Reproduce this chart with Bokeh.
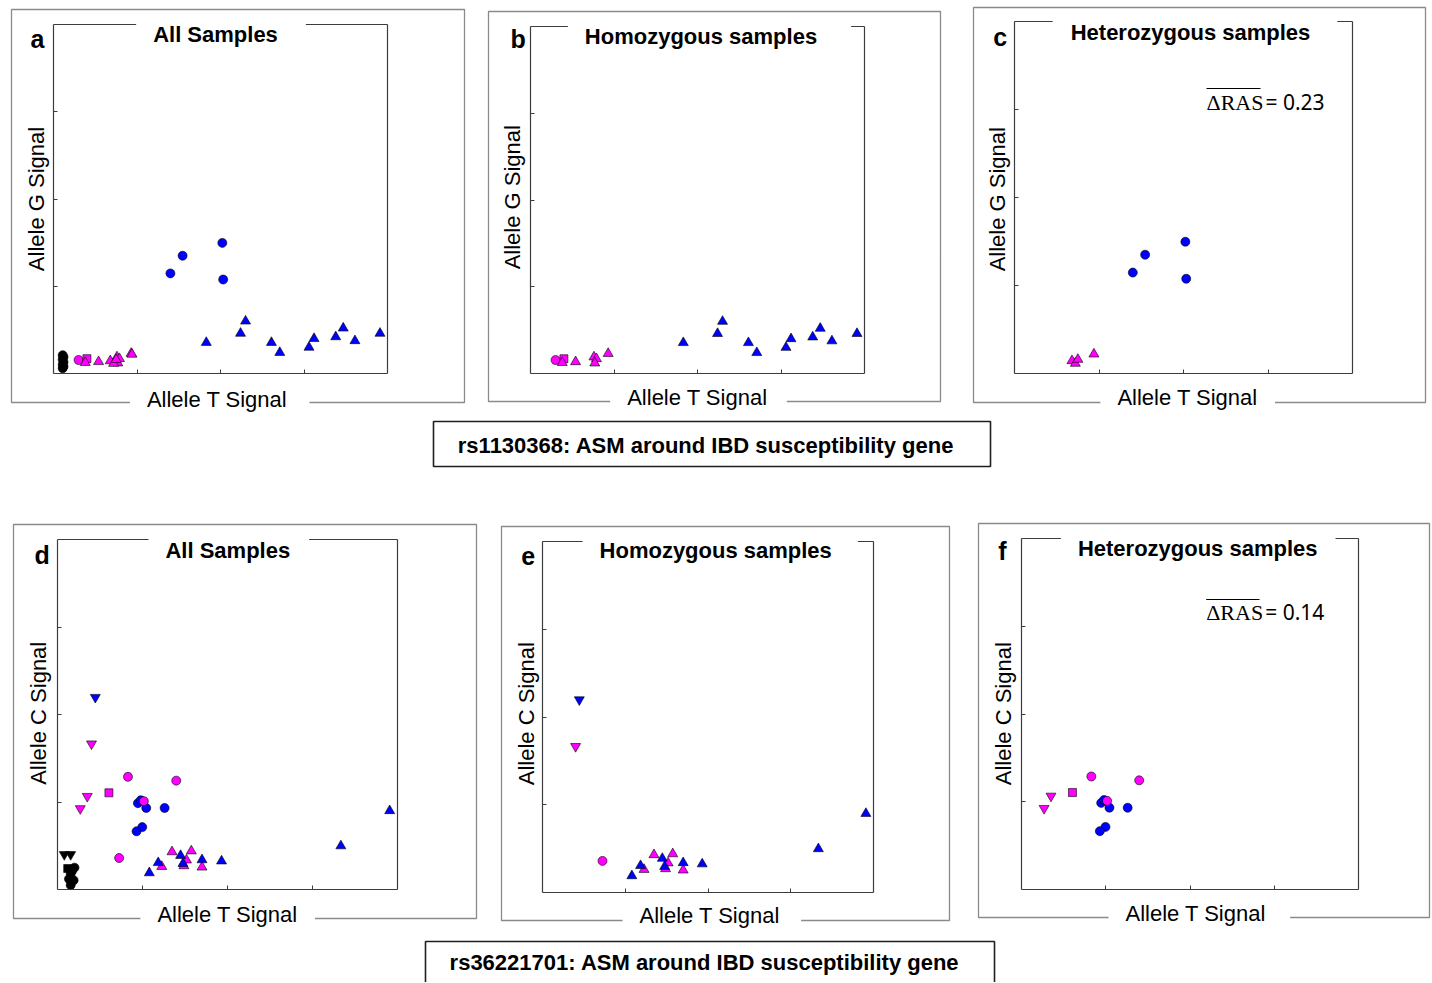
import math
from bokeh.plotting import figure
from bokeh.models import (Range1d, LinearAxis, FixedTicker, Label, BoxAnnotation,
                          ColumnDataSource)
from bokeh.layouts import row, column
from bokeh.embed import file_html
from bokeh.resources import INLINE

FONT = "Liberation Sans"
MAGENTA = "#ff00ff"
BLUE = "#0000ff"
BLACK = "#000000"
INNER = "#3c3c3c"
OUTER = "#8a8a8a"

# ---------------- data: rs1130368 (x = Allele T signal, y = Allele G signal) ----------
s1_x = [0.11, 0.12, 0.11, 0.12, 0.11, 0.12, 0.11,
        0.30, 0.40, 0.38, 0.54, 0.76, 0.79, 0.77, 0.93,
        0.68, 0.72, 0.75, 0.94,
        1.83, 2.24, 2.30, 2.61, 2.71, 3.06, 3.12, 3.38, 3.47, 3.61, 3.91,
        1.40, 1.546, 2.022, 2.032]
s1_y = [0.06, 0.08, 0.10, 0.13, 0.16, 0.19, 0.21,
        0.155, 0.17, 0.125, 0.135, 0.19, 0.17, 0.12, 0.23,
        0.145, 0.115, 0.16, 0.22,
        0.355, 0.46, 0.60, 0.355, 0.24, 0.30, 0.40, 0.42, 0.52, 0.375, 0.46,
        1.147, 1.35, 1.497, 1.077]
s1_marker = (["circle"] * 7 + ["circle", "square"] + ["triangle"] * 6 + ["triangle"] * 4
             + ["triangle"] * 11 + ["circle"] * 4)
s1_color = [BLACK] * 7 + [MAGENTA] * 8 + [MAGENTA] * 4 + [BLUE] * 11 + [BLUE] * 4
s1_zyg = ["nc"] * 7 + ["hom"] * 8 + ["het"] * 4 + ["hom"] * 11 + ["het"] * 4

# ---------------- data: rs36221701 (x = Allele T signal, y = Allele C signal) ---------
s2_x = [0.08, 0.155, 0.12, 0.20, 0.155, 0.19, 0.155, 0.135, 0.17,
        0.40, 0.725, 1.227, 1.347, 1.487, 1.518, 1.574, 1.70,
        0.268, 0.35, 0.605,
        0.445, 1.08, 1.185, 1.448, 1.476, 1.70, 1.93, 3.334, 3.908,
        0.946, 0.98, 1.044, 1.26, 0.997, 0.93,
        0.829, 1.397, 1.016]
s2_y = [0.40, 0.40, 0.24, 0.25, 0.18, 0.105, 0.05, 0.12, 0.21,
        1.665, 0.36, 0.262, 0.43, 0.27, 0.336, 0.44, 0.255,
        0.925, 1.065, 1.105,
        2.197, 0.19, 0.306, 0.388, 0.296, 0.339, 0.325, 0.498, 0.90,
        0.987, 1.02, 0.932, 0.932, 0.713, 0.665,
        1.288, 1.244, 1.01]
s2_marker = (["inverted_triangle"] * 2 + ["square"] + ["circle"] * 6
             + ["inverted_triangle", "circle"] + ["triangle"] * 6
             + ["inverted_triangle"] * 2 + ["square"]
             + ["inverted_triangle"] + ["triangle"] * 8
             + ["circle"] * 6 + ["circle"] * 3)
s2_color = ([BLACK] * 9 + [MAGENTA] * 8 + [MAGENTA] * 3 + [BLUE] * 9 + [BLUE] * 6 + [MAGENTA] * 3)
s2_zyg = (["nc"] * 9 + ["hom"] * 8 + ["het"] * 3 + ["hom"] * 9 + ["het"] * 6 + ["het"] * 3)

SIZES = {"circle": 9, "square": 8, "triangle": 10, "inverted_triangle": 10}

snps = {
    1: (s1_x, s1_y, s1_marker, s1_color, s1_zyg),
    2: (s2_x, s2_y, s2_marker, s2_color, s2_zyg),
}


def subset_source(snp, which):
    xs, ys, ms, cs, zs = snps[snp]
    keep = [i for i, z in enumerate(zs) if which == "all" or z == which]
    return ColumnDataSource(dict(
        x=[xs[i] for i in keep], y=[ys[i] for i in keep],
        marker=[ms[i] for i in keep], color=[cs[i] for i in keep],
        size=[SIZES[ms[i]] for i in keep]))


def make_panel(canvas, outer, inner, snp, subset, letter, letter_at, title, title_at,
               title_pad, ylab, ylab_at, xlab_at, xlab_pad, ras=None, ras_at=None,
               ras_bar=None):
    cx0, cy0, cx1, cy1 = canvas
    ol, ot, orr, ob = outer
    il, it, ir, ib = inner
    ux = (ir - il) / 4.0
    uy = (ib - it) / 4.0

    def dx(px):
        return (px - il) / ux

    def dy(py):
        return (ib - py) / uy

    p = figure(width=cx1 - cx0, height=cy1 - cy0,
               x_range=Range1d(dx(cx0), dx(cx1)), y_range=Range1d(dy(cy1), dy(cy0)),
               x_axis_type=None, y_axis_type=None, toolbar_location=None,
               output_backend="svg", title=None, min_border=0)
    p.outline_line_color = None
    p.background_fill_color = "white"
    p.border_fill_color = "white"

    # outer grey frame of the panel
    p.add_layout(BoxAnnotation(left=dx(ol), right=dx(orr), top=dy(ot), bottom=dy(ob),
                               fill_alpha=0, line_color=OUTER, line_alpha=1,
                               line_width=1.3))

    for side, loc, ticks in [("below", 0, [1, 2, 3]), ("left", 0, [1, 2, 3]),
                             ("above", 4, []), ("right", 4, [])]:
        ax = LinearAxis(fixed_location=loc, bounds=(0, 4),
                        ticker=FixedTicker(ticks=ticks, minor_ticks=[]),
                        axis_line_color=INNER, axis_line_width=1.2,
                        major_tick_in=4, major_tick_out=0,
                        major_tick_line_color=INNER, major_tick_line_width=1,
                        minor_tick_line_color=None, major_label_text_color=None)
        p.add_layout(ax, side)

    src = subset_source(snp, subset)
    p.scatter("x", "y", source=src, marker="marker", size="size",
              fill_color="color", line_color="black", line_width=0.6)

    p.add_layout(Label(x=dx(letter_at[0]), y=dy(letter_at[1]), text=letter,
                       text_font=FONT, text_font_style="bold", text_font_size="25px",
                       text_color="black",
                       text_align="left", text_baseline="middle", level="overlay"))
    # padding order: (left, right, top, bottom); x is the centre of the white gap
    p.add_layout(Label(x=dx(title_at[0]), y=dy(title_at[1]), text=title,
                       text_font=FONT, text_font_style="bold", text_font_size="22px",
                       text_color="black",
                       text_align="center", text_baseline="middle",
                       background_fill_color="white",
                       padding=(title_pad[0], title_pad[1], 3, 3), level="overlay"))
    p.add_layout(Label(x=dx(ylab_at[0]), y=dy(ylab_at[1]), text=ylab,
                       text_font=FONT, text_font_size="22px", angle=math.pi / 2,
                       text_color="black",
                       text_align="center", text_baseline="middle", level="overlay"))
    p.add_layout(Label(x=dx(xlab_at[0]), y=dy(xlab_at[1]), text="Allele T Signal",
                       text_font=FONT, text_font_size="22px", text_color="black",
                       text_align="center", text_baseline="middle",
                       background_fill_color="white",
                       padding=(xlab_pad[0], xlab_pad[1], 0, 0), level="overlay"))
    if ras is not None:
        p.add_layout(Label(x=dx(ras_at[0]), y=dy(ras_at[1]), text="\u0394RAS",
                           text_font="Liberation Serif", text_font_size="22px",
                           text_color="black",
                           text_align="left", text_baseline="middle", level="overlay"))
        p.add_layout(Label(x=dx(ras_at[0] + 59), y=dy(ras_at[1]), text="= " + ras,
                           text_font="Noto Sans", text_font_size="21px",
                           text_color="black",
                           text_align="left", text_baseline="middle", level="overlay"))
        bx0, bx1, by = ras_bar
        p.add_layout(BoxAnnotation(left=dx(bx0), right=dx(bx1), top=dy(by - 0.6),
                                   bottom=dy(by + 0.6), fill_color="black", fill_alpha=1,
                                   line_alpha=0, level="overlay"))
    return p


def make_box(canvas, box, text, text_at):
    cx0, cy0, cx1, cy1 = canvas
    p = figure(width=cx1 - cx0, height=cy1 - cy0,
               x_range=Range1d(cx0, cx1), y_range=Range1d(cy1, cy0),
               x_axis_type=None, y_axis_type=None, toolbar_location=None,
               output_backend="svg", title=None, min_border=0)
    p.outline_line_color = None
    p.background_fill_color = "white"
    p.border_fill_color = "white"
    p.add_layout(BoxAnnotation(left=box[0], right=box[2], top=box[1], bottom=box[3],
                               fill_alpha=0, line_color="#1e1e1e", line_alpha=1,
                               line_width=1.6))
    p.add_layout(Label(x=text_at[0], y=text_at[1], text=text, text_font=FONT,
                       text_font_style="bold", text_font_size="22px", text_color="black",
                       text_align="center", text_baseline="middle"))
    return p


pa = make_panel((0, 0, 476, 414), (11, 9, 464, 402), (53, 24, 387, 373), 1, "all",
                "a", (30, 38.5), "All Samples", (220.5, 33.5), (17, 28),
                "Allele G Signal", (35.5, 198.5), (219.2, 398.8), (17, 22))
pb = make_panel((476, 0, 958, 414), (488, 11, 940, 401), (530, 26, 864, 373), 1, "hom",
                "b", (510, 38), "Homozygous samples", (709, 35.6), (17, 34),
                "Allele G Signal", (511.5, 196.7), (698, 397.3), (17, 19))
pc = make_panel((958, 0, 1432, 414), (973, 7, 1425, 402), (1014, 21, 1352, 373), 1, "het",
                "c", (992.7, 36.5), "Heterozygous samples", (1194.5, 31.8), (18, 27),
                "Allele G Signal", (996.8, 198.7), (1187.2, 397.3), (17, 17),
                ras="0.23", ras_at=(1206, 101.5), ras_bar=(1206, 1260, 88))
pd = make_panel((0, 478, 488, 934), (13, 524, 476, 918), (57, 539, 397, 889), 2, "all",
                "d", (34, 554), "All Samples", (228.3, 549.8), (17, 19),
                "Allele C Signal", (37.5, 712.8), (227.2, 914), (17, 17))
pe = make_panel((488, 478, 964, 934), (501, 526, 949, 920), (542, 541, 873, 892), 2, "hom",
                "e", (520.7, 555.5), "Homozygous samples", (719.7, 549.8), (17, 26),
                "Allele C Signal", (525.5, 713.2), (711.3, 915), (17, 21))
pf = make_panel((964, 478, 1432, 934), (978, 523, 1429, 917), (1021, 538, 1358, 889), 2, "het",
                "f", (997.7, 550.5), "Heterozygous samples", (1197.7, 547.5), (17, 18),
                "Allele C Signal", (1002.5, 713.2), (1198.8, 912.5), (17, 24),
                ras="0.14", ras_at=(1205.7, 611.6), ras_bar=(1205.7, 1259, 599))

box1 = make_box((0, 414, 1432, 478), (433, 421, 990, 466),
                "rs1130368: ASM around IBD susceptibility gene", (705.5, 445.3))
box2 = make_box((0, 934, 1432, 982), (425, 941, 994, 1000),
                "rs36221701: ASM around IBD susceptibility gene", (704, 962.3))

layout = column(row(pa, pb, pc), box1, row(pd, pe, pf), box2)

open("out.html", "w").write(file_html(layout, INLINE))
